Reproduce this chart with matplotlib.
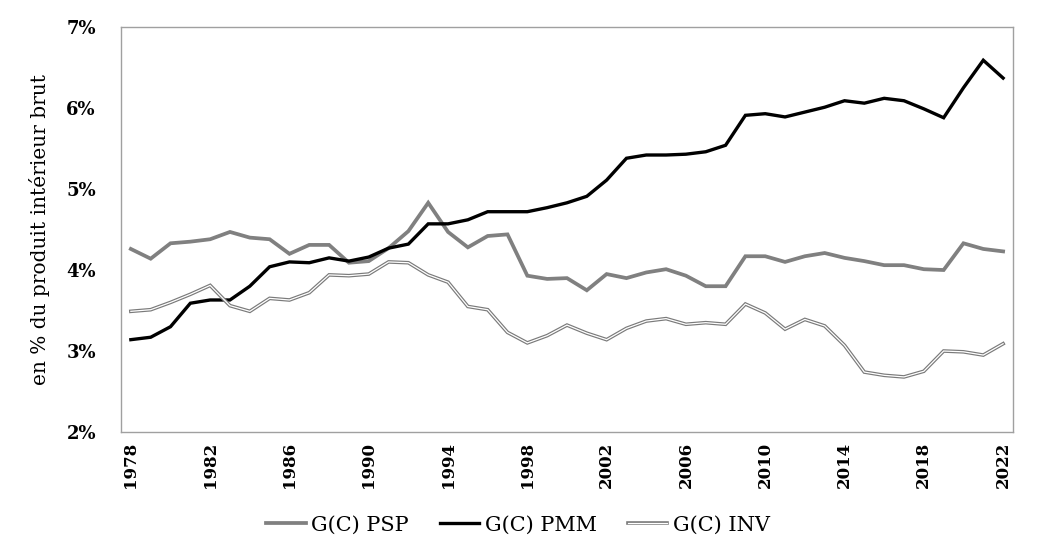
import numpy as np
import matplotlib
matplotlib.use('Agg')
import matplotlib.pyplot as plt
from matplotlib.legend_handler import HandlerTuple
from matplotlib.ticker import FuncFormatter, MultipleLocator, FixedLocator

years = list(range(1978, 2023))

psp = [4.26, 4.14, 4.33, 4.35, 4.38, 4.47, 4.40, 4.38, 4.20, 4.31,
       4.31, 4.09, 4.11, 4.27, 4.48, 4.83, 4.47, 4.28, 4.42, 4.44,
       3.93, 3.89, 3.90, 3.75, 3.95, 3.90, 3.97, 4.01, 3.93, 3.80,
       3.80, 4.17, 4.17, 4.10, 4.17, 4.21, 4.15, 4.11, 4.06, 4.06,
       4.01, 4.00, 4.33, 4.26, 4.23]

pmm = [3.14, 3.17, 3.30, 3.59, 3.63, 3.63, 3.80, 4.04, 4.10, 4.09,
       4.15, 4.11, 4.16, 4.27, 4.32, 4.57, 4.57, 4.62, 4.72, 4.72,
       4.72, 4.77, 4.83, 4.91, 5.11, 5.38, 5.42, 5.42, 5.43, 5.46,
       5.54, 5.91, 5.93, 5.89, 5.95, 6.01, 6.09, 6.06, 6.12, 6.09,
       5.99, 5.88, 6.25, 6.59, 6.37]

inv = [3.49, 3.51, 3.60, 3.70, 3.81, 3.56, 3.49, 3.65, 3.63, 3.72,
       3.94, 3.93, 3.95, 4.10, 4.09, 3.94, 3.85, 3.55, 3.51, 3.23,
       3.10, 3.19, 3.32, 3.22, 3.14, 3.28, 3.37, 3.40, 3.33, 3.35,
       3.33, 3.58, 3.47, 3.27, 3.39, 3.31, 3.07, 2.74, 2.70, 2.68,
       2.75, 3.00, 2.99, 2.95, 3.09]

tick_years = years[::4]

plt.rcParams['font.family'] = ['DejaVu Serif']

fig = plt.figure(figsize=(10.49, 5.54), dpi=100)
ax = fig.add_axes([0.1153, 0.2202, 0.8504, 0.7310])

l_psp, = ax.plot(years, psp, color='#808080', lw=2.7, solid_joinstyle='miter')
l_pmm, = ax.plot(years, pmm, color='black', lw=2.4, solid_joinstyle='miter')
l_inv_o, = ax.plot(years, inv, color='#7a7a7a', lw=2.6, solid_joinstyle='miter')
l_inv_i, = ax.plot(years, inv, color='white', lw=0.9, solid_joinstyle='miter')

ax.set_xlim(1977.5, 2022.5)
ax.set_ylim(2, 7)
ax.xaxis.set_major_locator(FixedLocator(tick_years))
ax.yaxis.set_major_locator(MultipleLocator(1))
ax.yaxis.set_major_formatter(FuncFormatter(lambda v, p: '%d%%' % v))
ax.tick_params(axis='both', length=0)
ax.tick_params(axis='x', pad=7, labelrotation=90, labelsize=12)
ax.tick_params(axis='y', pad=18, labelsize=13)
for lab in ax.get_xticklabels() + ax.get_yticklabels():
    lab.set_fontweight('bold')

for s in ax.spines.values():
    s.set_color('#a0a0a0')
    s.set_linewidth(1.0)

ax.set_ylabel('en % du produit intérieur brut', fontsize=14.5, labelpad=12)

leg = ax.legend([l_psp, l_pmm, (l_inv_o, l_inv_i)],
                ['G(C) PSP', 'G(C) PMM', 'G(C) INV'],
                handler_map={tuple: HandlerTuple(ndivide=1)},
                loc='center', bbox_to_anchor=(0.445, -0.23), ncol=3,
                frameon=False, fontsize=15, handlelength=1.9,
                handletextpad=0.25, columnspacing=1.5)

fig.savefig('out.png', dpi=100)
